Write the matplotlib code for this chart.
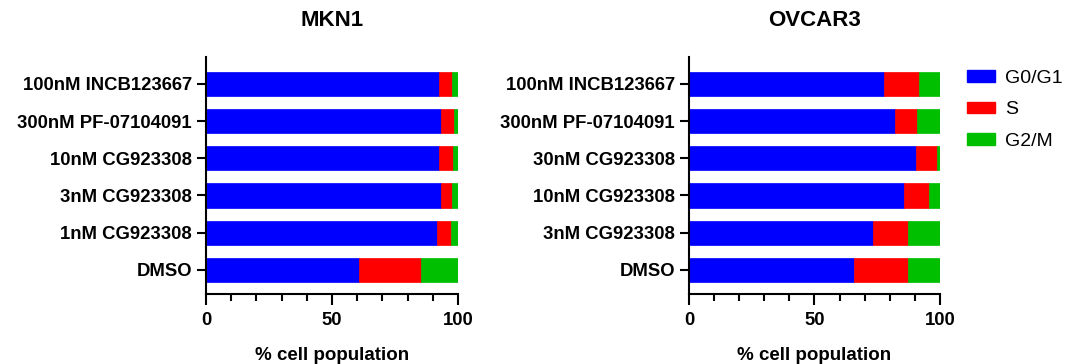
import matplotlib
matplotlib.use("Agg")
import matplotlib.pyplot as plt
from matplotlib.patches import Patch
from matplotlib.ticker import MultipleLocator

plt.rcParams['font.family'] = ['Liberation Sans', 'DejaVu Sans']

phases = ['G0/G1', 'S', 'G2/M']
colors = ['#0000ff', '#ff0000', '#00bf00']

# bottom to top (DMSO first)
mkn1_labels = ['DMSO', '1nM CG923308', '3nM CG923308', '10nM CG923308',
               '300nM PF-07104091', '100nM INCB123667']
mkn1_g1 = [60.8, 91.7, 93.3, 92.5, 93.1, 92.3]
mkn1_s = [24.4, 5.5, 4.4, 5.6, 5.3, 5.5]
mkn1_g2m = [14.8, 2.8, 2.3, 1.9, 1.6, 2.2]

ovcar3_labels = ['DMSO', '3nM CG923308', '10nM CG923308', '30nM CG923308',
                 '300nM PF-07104091', '100nM INCB123667']
ovcar3_g1 = [65.9, 73.3, 85.5, 90.6, 82.0, 77.8]
ovcar3_s = [21.5, 13.8, 10.1, 8.2, 9.0, 13.7]
ovcar3_g2m = [12.6, 12.9, 4.4, 1.2, 9.0, 8.5]


def draw_panel(ax, title, labels, g1, s, g2m):
    y = list(range(len(labels)))
    left = [0] * len(labels)
    for vals, c in zip([g1, s, g2m], colors):
        ax.barh(y, vals, left=left, height=0.65, color=c, edgecolor=c, linewidth=0.5)
        left = [a + b for a, b in zip(left, vals)]
    ax.set_xlim(0, 100)
    ax.set_ylim(-0.65, 5.72)
    ax.set_yticks(y)
    ax.set_yticklabels(labels, fontsize=13.3, fontweight='bold')
    ax.xaxis.set_major_locator(MultipleLocator(50))
    ax.xaxis.set_minor_locator(MultipleLocator(10))
    for lab in ax.get_xticklabels():
        lab.set_fontsize(13.3)
        lab.set_fontweight('bold')
    ax.tick_params(axis='x', which='major', length=8, width=1.5, pad=5)
    ax.tick_params(axis='x', which='minor', length=5, width=1.5)
    ax.tick_params(axis='y', length=6.5, width=1.5, pad=3.5)
    ax.spines['top'].set_visible(False)
    ax.spines['right'].set_visible(False)
    ax.spines['left'].set_linewidth(1.5)
    ax.spines['bottom'].set_linewidth(1.5)
    ax.set_xlabel('% cell population', fontsize=13.5, fontweight='bold', labelpad=13)
    ax.set_title(title, fontsize=16, fontweight='bold', pad=22)


fig = plt.figure(figsize=(10.74, 3.64), dpi=100)
ax1 = fig.add_axes([0.1918, 0.1923, 0.2346, 0.651])
ax2 = fig.add_axes([0.6415, 0.1923, 0.2337, 0.651])

draw_panel(ax1, 'MKN1', mkn1_labels, mkn1_g1, mkn1_s, mkn1_g2m)
draw_panel(ax2, 'OVCAR3', ovcar3_labels, ovcar3_g1, ovcar3_s, ovcar3_g2m)

handles = [Patch(facecolor=c, edgecolor=c) for c in colors]
fig.legend(handles, phases, loc='upper left', bbox_to_anchor=(0.884, 0.856),
           frameon=False, fontsize=14, handlelength=1.44, handleheight=0.56,
           labelspacing=0.74, handletextpad=0.5)

fig.savefig('out.png', dpi=100)
